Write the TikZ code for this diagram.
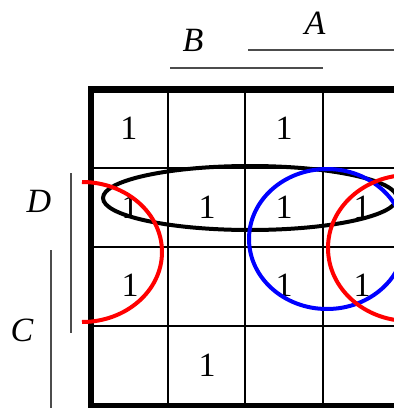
\documentclass[tikz,border=0pt]{standalone}
\usepackage{fontspec}
\setmainfont{Liberation Serif}
\begin{document}
\begin{tikzpicture}[x=1pt,y=-1pt,
  one/.style={font=\fontsize{34}{34}\selectfont, inner sep=0pt},
  var/.style={font=\fontsize{34}{34}\selectfont\itshape, inner sep=0pt},
  gridline/.style={line width=2.6pt},
  border/.style={line width=6.6pt},
  bar/.style={line width=2pt, draw=black!70},
  loop/.style={line width=4pt}]
\useasboundingbox (0,0) rectangle (394,408);
\clip (0,0) rectangle (394,408);
% grid
\foreach \x in {168,245,323} \draw[gridline] (\x,89) -- (\x,406);
\foreach \y in {168,247,326} \draw[gridline] (91,\y) -- (400,\y);
\draw[border] (91,89.5) rectangle (401,406.5);
% variable labels and bars
\node[var] (B) at (193,40) {B};
\node[var] (A) at (315,23) {A};
\node[var] (D) at (39,201) {D};
\node[var] (C) at (22,330) {C};
\coordinate (b1) at (170,68); \coordinate (b2) at (323,68);
\coordinate (a1) at (248,50); \coordinate (a2) at (394,50);
\coordinate (d1) at (71,173); \coordinate (d2) at (71,333);
\coordinate (c1) at (51,250); \coordinate (c2) at (51,408);
\draw[bar] (b1) -- (b2);
\draw[bar] (a1) -- (a2);
\draw[bar] (d1) -- (d2);
\draw[bar] (c1) -- (c2);
% cell entries
\node[one] (m11) at (129,128) {1};
\node[one] (m13) at (284,128) {1};
\node[one] (m21) at (130,207) {1};
\node[one] (m22) at (207,207) {1};
\node[one] (m23) at (284,207) {1};
\node[one] (m24) at (362,207) {1};
\node[one] (m31) at (130,285) {1};
\node[one] (m33) at (284,285) {1};
\node[one] (m34) at (362,285) {1};
\node[one] (m42) at (207,365) {1};
% groupings
\draw[loop, black] (250,198) ellipse[x radius=147, y radius=32];
\draw[loop, blue] (327,239) ellipse[x radius=78, y radius=70];
\draw[loop, red] (82,182) arc[start angle=-90, end angle=90, x radius=80, y radius=70];
\draw[loop, red] (409,248) ellipse[x radius=81, y radius=73];
\end{tikzpicture}
\end{document}
